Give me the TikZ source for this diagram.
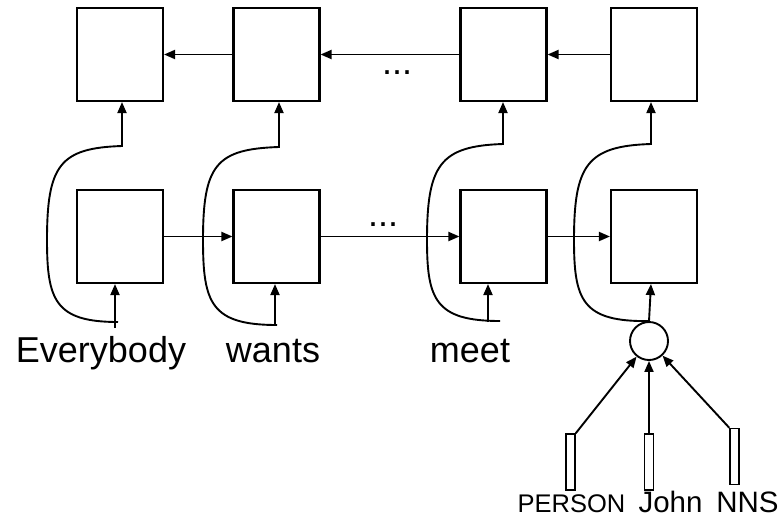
\documentclass[tikz,border=0pt]{standalone}
\usepackage{fontspec}
\setmainfont{Liberation Sans}
\usetikzlibrary{arrows.meta}
\begin{document}
\begin{tikzpicture}[x=1pt,y=-1pt,
  cell/.style={draw, line width=2.1pt, minimum width=86pt, minimum height=93pt, inner sep=0pt},
  feat/.style={draw, line width=1.5pt, minimum width=9pt, minimum height=56pt, inner sep=0pt},
  conn/.style={line width=1.9pt, -{Triangle[length=11pt,width=9pt]}},
  word/.style={font=\fontsize{36}{40}\selectfont, anchor=base, inner sep=0pt},
  tag/.style={font=\fontsize{29.5}{33}\selectfont, anchor=base, inner sep=0pt},
  smalltag/.style={font=\fontsize{25.5}{29}\selectfont, anchor=base, inner sep=0pt},
]
\useasboundingbox (0,0) rectangle (784,517);

% backward (upper) chain
\node[cell] (t1) at (120,54.5) {};
\node[cell] (t2) at (276.5,54.5) {};
\node[cell] (t3) at (503.5,54.5) {};
\node[cell] (t4) at (654,54.5) {};

% forward (lower) chain
\node[cell] (b1) at (120,236.5) {};
\node[cell] (b2) at (276.5,236.5) {};
\node[cell] (b3) at (503.5,236.5) {};
\node[cell] (b4) at (654,236.5) {};

\draw[conn] (t4.west) -- (t3.east);
\draw[conn] (t3.west) -- (t2.east);
\draw[conn] (t2.west) -- (t1.east);
\draw[conn] (b1.east) -- (b2.west);
\draw[conn] (b2.east) -- (b3.west);
\draw[conn] (b3.east) -- (b4.west);

\node[word] (d1) at (397,74) {...};
\node[word] (d2) at (383,226) {...};

% input words
\node[word] (w1) at (101,362) {Everybody};
\node[word] (w2) at (273,362) {wants};
\node[word] (w3) at (470,362) {meet};

\coordinate (i1) at (115,328);
\coordinate (i2) at (275,324);
\coordinate (i3) at (488,322);
\draw[conn] (i1) -- (i1 |- b1.south);
\draw[conn] (i2) -- (i2 |- b2.south);
\draw[conn] (i3) -- (i3 |- b3.south);

% feature combination for the last word
\node[draw, circle, line width=1.9pt, minimum size=38pt, inner sep=0pt] (c) at (649,341) {};
\node[feat] (pl) at (570.5,462) {};
\node[feat] (pm) at (649,462) {};
\node[feat] (pr) at (734.5,456.5) {};
\draw[conn] (pl.north east) -- (c);
\draw[conn] (pm.north) -- (c);
\draw[conn] (pr.north west) -- (c);
\draw[conn] (c.north) -- ([xshift=-3pt]b4.south);

\node[smalltag] (l1) at (571.5,512) {PERSON};
\node[tag] (l2) at (670.5,512) {John};
\node[tag] (l3) at (747.5,512) {NNS};

% skip connections from each input up to the upper chain
\coordinate (k1) at (118,322);
\coordinate (k2) at (277,325);
\coordinate (k3) at (500,321);
\coordinate (u1) at (122,146);
\coordinate (u2) at (279,147);
\coordinate (u3) at (503,144);
\coordinate (u4) at (651,144);
\draw[conn] (k1) .. controls (55,322) and (47,300) .. (47,240)
  .. controls (47,165) and (60,148) .. (u1) -- (u1 |- t1.south);
\draw[conn] (k2) .. controls (211,325) and (203,303) .. (203,240)
  .. controls (203,165) and (216,149) .. (u2) -- (u2 |- t2.south);
\draw[conn] (k3) .. controls (435,321) and (427,299) .. (427,240)
  .. controls (427,165) and (440,146) .. (u3) -- (u3 |- t3.south);
\draw[conn] (c.north) .. controls (582,322) and (574,300) .. (574,240)
  .. controls (574,165) and (587,146) .. (u4) -- (u4 |- t4.south);
\end{tikzpicture}
\end{document}
